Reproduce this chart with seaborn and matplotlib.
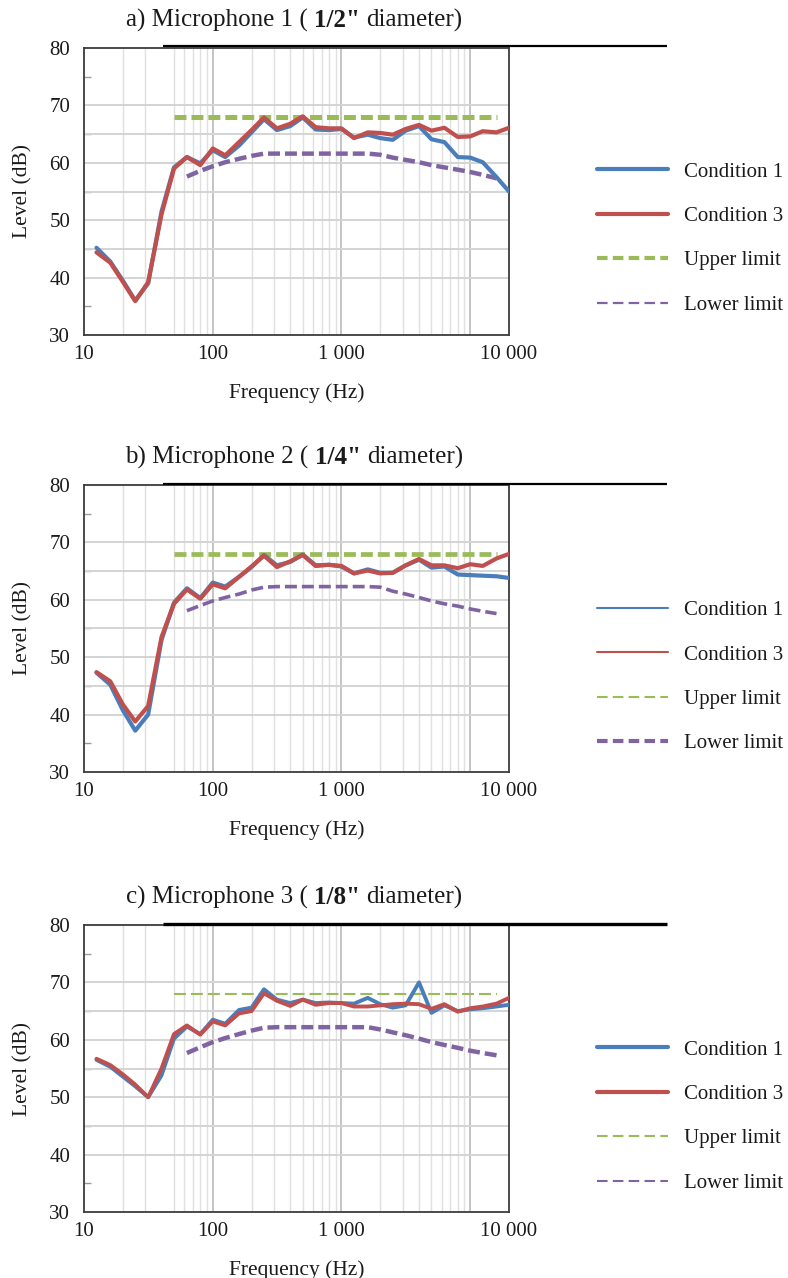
import numpy as np
import pandas as pd
import matplotlib
matplotlib.use("Agg")
import matplotlib.pyplot as plt
import seaborn as sns
from matplotlib.lines import Line2D
from matplotlib.ticker import FixedLocator, NullLocator

# One-third-octave band centre frequencies (Hz)
FREQ = [12.5, 16, 20, 25, 31.5, 40, 50, 63, 80, 100, 125, 160, 200, 250, 315,
        400, 500, 630, 800, 1000, 1250, 1600, 2000, 2500, 3150, 4000, 5000,
        6300, 8000, 10000, 12500, 16000, 20000]

# Tolerance band frequencies
UPPER_FREQ = [50, 16000]
LOWER_FREQ = [63, 80, 100, 125, 160, 200, 250, 315, 400, 500, 630, 800, 1000,
              1250, 1600, 2000, 2500, 3150, 4000, 5000, 6300, 8000, 10000,
              12500, 16000]

# a) Microphone 1
MIC1_COND1 = [45.2, 42.8, 39.5, 36.0, 39.0, 51.5, 59.2, 61.0, 59.9, 62.2, 61.0,
              63.0, 65.3, 67.6, 65.7, 66.4, 67.9, 65.8, 65.7, 65.9, 64.4, 64.9,
              64.3, 64.0, 65.6, 66.4, 64.1, 63.6, 61.0, 60.9, 60.1, 57.5, 55.0]
MIC1_COND3 = [44.4, 42.6, 39.3, 35.9, 39.2, 51.0, 59.0, 61.0, 59.6, 62.5, 61.3,
              63.6, 65.7, 67.9, 66.0, 66.8, 68.1, 66.2, 66.0, 66.0, 64.3, 65.3,
              65.2, 64.9, 65.9, 66.6, 65.6, 66.1, 64.5, 64.6, 65.5, 65.3, 66.1]
MIC1_UPPER = [68.0, 68.0]
MIC1_LOWER = [57.6, 58.6, 59.4, 60.1, 60.7, 61.2, 61.6, 61.6, 61.6, 61.6, 61.6,
              61.6, 61.6, 61.6, 61.6, 61.4, 60.9, 60.5, 60.1, 59.6, 59.2, 58.8,
              58.4, 57.9, 57.3]

# b) Microphone 2
MIC2_COND1 = [47.3, 45.2, 40.8, 37.2, 40.0, 53.0, 59.5, 62.0, 60.3, 63.0, 62.3,
              64.0, 65.7, 67.8, 66.0, 66.6, 67.9, 66.0, 66.1, 65.8, 64.6, 65.3,
              64.7, 64.7, 66.0, 67.0, 65.6, 65.8, 64.4, 64.3, 64.2, 64.1, 63.8]
MIC2_COND3 = [47.4, 45.8, 41.8, 38.8, 41.5, 53.5, 59.3, 61.8, 60.2, 62.7, 62.0,
              64.0, 65.8, 67.7, 65.7, 66.7, 67.8, 65.9, 66.1, 65.9, 64.6, 65.1,
              64.6, 64.7, 66.0, 67.1, 66.0, 66.0, 65.5, 66.2, 65.9, 67.2, 68.0]
MIC2_UPPER = [68.0, 68.0]
MIC2_LOWER = [58.1, 59.0, 59.8, 60.4, 61.0, 61.7, 62.2, 62.3, 62.3, 62.3, 62.3,
              62.3, 62.3, 62.3, 62.3, 62.2, 61.5, 61.0, 60.4, 59.8, 59.3, 58.9,
              58.4, 58.0, 57.6]

# c) Microphone 3
MIC3_COND1 = [56.5, 55.3, 53.6, 51.9, 50.0, 53.8, 60.2, 62.3, 61.0, 63.5, 62.8,
              65.2, 65.6, 68.8, 67.0, 66.4, 67.0, 66.4, 66.5, 66.4, 66.3, 67.3,
              66.2, 65.6, 66.0, 70.0, 64.7, 66.0, 65.0, 65.3, 65.5, 65.8, 66.1]
MIC3_COND3 = [56.7, 55.6, 54.0, 52.2, 50.0, 55.0, 61.0, 62.5, 60.9, 63.2, 62.5,
              64.6, 65.0, 68.1, 66.8, 65.9, 67.0, 66.1, 66.4, 66.4, 65.8, 65.8,
              66.0, 66.2, 66.3, 66.2, 65.4, 66.2, 64.9, 65.5, 65.8, 66.3, 67.3]
MIC3_UPPER = [68.0, 68.0]
MIC3_LOWER = [57.7, 58.7, 59.6, 60.3, 61.0, 61.6, 62.1, 62.2, 62.2, 62.2, 62.2,
              62.2, 62.2, 62.2, 62.2, 61.8, 61.3, 60.8, 60.2, 59.6, 59.1, 58.6,
              58.1, 57.7, 57.3]

# Panel titles: (plain prefix, bold size, plain suffix)
TITLES = [("a) Microphone 1 (", '1/2"', "diameter)"),
          ("b) Microphone 2 (", '1/4"', "diameter)"),
          ("c) Microphone 3 (", '1/8"', "diameter)")]
SERIES_LABELS = ["Condition 1", "Condition 3", "Upper limit", "Lower limit"]
X_TICKS = [10, 100, 1000, 20000]
X_TICK_LABELS = ["10", "100", "1 000", "10 000"]
Y_TICKS = [30, 40, 50, 60, 70, 80]

BLUE = "#4a7ebb"
RED = "#c0504d"
GREEN = "#9bbb59"
PURPLE = "#8064a2"
INK = "#1a1a1a"

sns.set_theme(style="white")
plt.rcParams["font.family"] = ["Liberation Serif", "DejaVu Serif"]
plt.rcParams["lines.scale_dashes"] = False

W, H = 788, 1278
fig = plt.figure(figsize=(W / 100, H / 100), dpi=100)
fig.patch.set_facecolor("white")
renderer = fig.canvas.get_renderer()

DASH_PLOT = (0, (8.6, 3.6))
DASH_LEG = (0, (7.6, 3.8))

MINOR_X = [20, 30, 50, 60, 70, 80, 90,
           200, 300, 400, 500, 600, 700, 800, 900,
           2000, 3000, 4000, 5000, 6000, 7000, 8000, 9000]
MAJOR_X = [100, 1000, 10000]

panels = [
    dict(top=48, title_base=27, rule_y=46, rule_lw=1.6,
         c1=MIC1_COND1, c3=MIC1_COND3, up=MIC1_UPPER, lo=MIC1_LOWER,
         lw=(3.0, 3.0, 3.6, 3.2), leg_lw=(3.0, 3.0, 3.0, 1.6),
         leg_rows=(171.5, 305.5)),
    dict(top=485, title_base=464, rule_y=483.5, rule_lw=1.6,
         c1=MIC2_COND1, c3=MIC2_COND3, up=MIC2_UPPER, lo=MIC2_LOWER,
         lw=(3.0, 3.0, 3.4, 2.6), leg_lw=(1.5, 1.5, 1.5, 3.0),
         leg_rows=(610, 744)),
    dict(top=925, title_base=904, rule_y=923.5, rule_lw=2.4,
         c1=MIC3_COND1, c3=MIC3_COND3, up=MIC3_UPPER, lo=MIC3_LOWER,
         lw=(2.8, 2.8, 1.5, 3.2), leg_lw=(3.0, 3.0, 1.5, 1.5),
         leg_rows=(1049, 1184)),
]

AX_LEFT, AX_RIGHT, AX_H = 84, 509, 287
TITLE_SIZE = 18


def text_width(s, **kw):
    t = fig.text(0, 0, s, fontsize=TITLE_SIZE, **kw)
    w = t.get_window_extent(renderer).width
    t.remove()
    return w


SPACE_W = text_width("a a") - text_width("aa")


def draw_title(parts, cx, base_y):
    pre, bold, post = parts
    w_pre = text_width(pre)
    w_bold = text_width(bold, fontweight="bold")
    w_post = text_width(post)
    total = w_pre + w_bold + w_post + 2 * SPACE_W
    x = cx - total / 2
    y = 1 - base_y / H
    for s, wt, w in [(pre, "normal", w_pre), (bold, "bold", w_bold),
                     (post, "normal", w_post)]:
        fig.text(x / W, y, s, fontsize=TITLE_SIZE, fontweight=wt,
                 ha="left", va="baseline", color=INK)
        x += w + SPACE_W


for i, p in enumerate(panels):
    top = p["top"]
    bottom = top + AX_H
    ax = fig.add_axes([AX_LEFT / W, 1 - bottom / H,
                       (AX_RIGHT - AX_LEFT) / W, AX_H / H])
    ax.set_xscale("log")
    ax.set_xlim(10, 20000)
    ax.set_ylim(30, 80)

    # grid
    for f in MINOR_X:
        ax.axvline(f, color="#e0e0e0", lw=1.0, zorder=0.5)
    for f in MAJOR_X:
        ax.axvline(f, color="#c4c4c4", lw=1.4, zorder=0.6)
    for v in [40, 45, 50, 55, 60, 65, 70]:
        ax.axhline(v, color="#d4d4d4", lw=1.4, zorder=0.6)

    lw1, lw3, lwu, lwl = p["lw"]
    sns.lineplot(x=UPPER_FREQ, y=p["up"], ax=ax, color=GREEN, lw=lwu,
                 linestyle=DASH_PLOT, zorder=2)
    sns.lineplot(x=LOWER_FREQ, y=p["lo"], ax=ax, color=PURPLE, lw=lwl,
                 linestyle=DASH_PLOT, zorder=2)
    df = pd.DataFrame({"Frequency": FREQ, "c1": p["c1"], "c3": p["c3"]})
    sns.lineplot(data=df, x="Frequency", y="c1", ax=ax, color=BLUE, lw=lw1,
                 zorder=3)
    sns.lineplot(data=df, x="Frequency", y="c3", ax=ax, color=RED, lw=lw3,
                 zorder=4)

    # axes styling
    ax.set_xticks(X_TICKS)
    ax.set_xticklabels(X_TICK_LABELS)
    ax.xaxis.set_minor_locator(NullLocator())
    ax.set_yticks(Y_TICKS)
    ax.set_yticklabels([str(v) for v in Y_TICKS])
    ax.yaxis.set_minor_locator(FixedLocator([35, 45, 55, 65, 75]))
    ax.tick_params(axis="both", which="major", length=0, labelsize=15,
                   colors=INK)
    ax.tick_params(axis="x", which="major", pad=7)
    ax.tick_params(axis="y", which="major", pad=10)
    ax.tick_params(axis="y", which="minor", direction="in", length=5,
                   width=1.0, color="#9a9a9a", left=True)
    for s in ax.spines.values():
        s.set_color("#3c3c3c")
        s.set_linewidth(1.3)
        s.set_visible(True)
    ax.grid(False)

    ax.set_xlabel("Frequency (Hz)", fontsize=15.5, color=INK)
    ax.set_ylabel("Level (dB)", fontsize=15.5, color=INK)
    ax.xaxis.label.set_va("center")
    ax.yaxis.label.set_va("center")
    ax.xaxis.set_label_coords(0.5, -(392 - 334) / AX_H)
    ax.yaxis.set_label_coords((23 - AX_LEFT) / (AX_RIGHT - AX_LEFT), 0.5)

    # title and rule above each panel
    draw_title(TITLES[i], 294, p["title_base"])
    fig.add_artist(Line2D([163 / W, 667 / W],
                          [1 - p["rule_y"] / H, 1 - p["rule_y"] / H],
                          transform=fig.transFigure, color="black",
                          lw=p["rule_lw"], solid_capstyle="butt"))

    # legend
    l1, l3, lu, ll = p["leg_lw"]
    handles = [Line2D([], [], color=BLUE, lw=l1),
               Line2D([], [], color=RED, lw=l3),
               Line2D([], [], color=GREEN, lw=lu, linestyle=DASH_LEG),
               Line2D([], [], color=PURPLE, lw=ll, linestyle=DASH_LEG)]
    y0, y1 = p["leg_rows"]
    fig.legend(handles, SERIES_LABELS, loc="center left",
               bbox_to_anchor=(597 / W, 1 - (y0 + y1) / 2 / H),
               frameon=False, borderpad=0, borderaxespad=0,
               handlelength=3.4, handletextpad=0.77, labelspacing=1.19,
               fontsize=15, labelcolor=INK)

fig.savefig("out.png", dpi=100, facecolor="white")
